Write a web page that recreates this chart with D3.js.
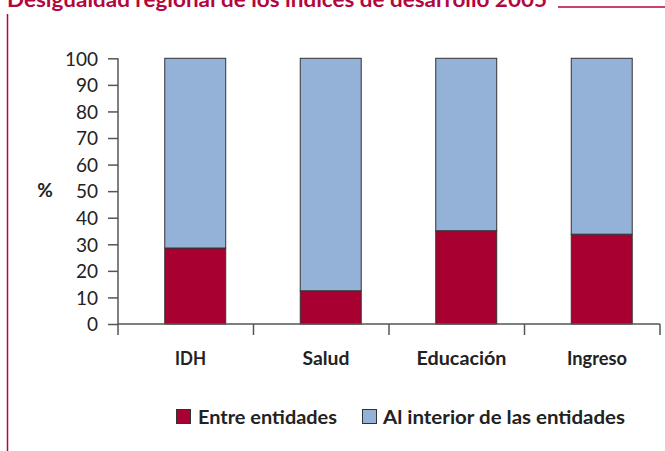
<!DOCTYPE html>
<html><head><meta charset="utf-8">
<script src="https://cdn.jsdelivr.net/npm/d3@7/dist/d3.min.js"></script>
<style>body{margin:0;background:#fff}svg{display:block}</style>
</head><body>
<svg id="c" width="665" height="451"></svg>
<script>
const title = "Desigualdad regional de los índices de desarrollo 2005";
const categories = ["IDH", "Salud", "Educación", "Ingreso"];
const entre = [28.6, 12.5, 35.1, 33.8];
const interior = [71.4, 87.5, 64.9, 66.2];
const seriesNames = ["Entre entidades", "Al interior de las entidades"];
const yTicks = [0, 10, 20, 30, 40, 50, 60, 70, 80, 90, 100];
const yLabel = "%";

const red = "#A80031", blue = "#94B2D7", crimson = "#B3073F", axisCol = "#555";
const font = "Lato, 'Open Sans', sans-serif";
const svg = d3.select("#c");

// title & frame
svg.append("text").attr("x", 7).attr("y", 7).attr("font-family", font)
  .attr("font-weight", 700).attr("font-size", 20).attr("fill", crimson)
  .attr("textLength", 540).attr("lengthAdjust", "spacingAndGlyphs").text(title);
svg.append("line").attr("x1", 558).attr("x2", 665).attr("y1", 7).attr("y2", 7)
  .attr("stroke", crimson).attr("stroke-width", 1.5);
svg.append("line").attr("x1", 7.5).attr("x2", 7.5).attr("y1", 14).attr("y2", 451)
  .attr("stroke", crimson).attr("stroke-width", 1.5);

const x = d3.scaleBand().domain(categories).range([118, 660]).padding(0);
const y = d3.scaleLinear().domain([0, 100]).range([324, 58.3]);
const bw = x.bandwidth();

const data = categories.map((c, i) => ({cat: c, entre: entre[i], interior: interior[i]}));
const stack = d3.stack().keys(["entre", "interior"])(data);
const colors = [red, blue];

const g = svg.append("g");
stack.forEach((layer, li) => {
  g.selectAll(null).data(layer).enter().append("rect")
    .attr("x", d => x(d.data.cat) + bw * 0.345)
    .attr("width", bw * 0.45)
    .attr("y", d => y(d[1]))
    .attr("height", d => y(d[0]) - y(d[1]))
    .attr("fill", colors[li])
    .attr("stroke", "#333").attr("stroke-width", 1);
});

// y axis
const yAxis = d3.axisLeft(y).tickValues(yTicks).tickSize(10).tickPadding(10).tickSizeOuter(0);
const ya = svg.append("g").attr("transform", "translate(118,0)").call(yAxis);
ya.select(".domain").remove();
ya.append("line").attr("x1", 0).attr("x2", 0).attr("y1", y(100)).attr("y2", 335)
  .attr("stroke", axisCol).attr("stroke-width", 1.5);
ya.selectAll(".tick line").attr("stroke", axisCol).attr("stroke-width", 1.5);
ya.selectAll(".tick text").attr("font-family", font).attr("font-size", 19)
  .attr("fill", "#222").attr("dy", "0.36em");

// x axis
const xa = svg.append("g");
xa.append("line").attr("x1", 118).attr("x2", 660).attr("y1", 324).attr("y2", 324)
  .attr("stroke", axisCol).attr("stroke-width", 1.5);
const edges = categories.map(c => x(c)).concat([x(categories[categories.length - 1]) + bw]);
xa.selectAll(null).data(edges.slice(1)).enter().append("line")
  .attr("x1", d => d).attr("x2", d => d).attr("y1", 324).attr("y2", 335)
  .attr("stroke", axisCol).attr("stroke-width", 1.5);
const labW = {"IDH": 31, "Salud": 47, "Educación": 90, "Ingreso": 60};
xa.selectAll(null).data(categories).enter().append("text")
  .attr("x", d => x(d) + bw * 0.535 - labW[d] / 2).attr("y", 365)
  .attr("font-family", font).attr("font-weight", 700)
  .attr("font-size", 19).attr("fill", "#222")
  .attr("textLength", d => labW[d]).attr("lengthAdjust", "spacingAndGlyphs").text(d => d);

svg.append("text").attr("x", 45).attr("y", 190).attr("dy", "0.35em")
  .attr("text-anchor", "middle").attr("font-family", font).attr("font-weight", 700)
  .attr("font-size", 19).attr("fill", "#222").text(yLabel);

// legend
const legX = [176, 362], legW = [139, 242];
const leg = svg.append("g");
seriesNames.forEach((n, i) => {
  leg.append("rect").attr("x", legX[i] + 0.5).attr("y", 409.5).attr("width", 14).attr("height", 14)
    .attr("fill", colors[i]).attr("stroke", "#333").attr("stroke-width", 1);
  leg.append("text").attr("x", legX[i] + (i === 0 ? 22 : 21)).attr("y", 424)
    .attr("font-family", font).attr("font-weight", 700).attr("font-size", 19)
    .attr("fill", "#222").attr("textLength", legW[i]).attr("lengthAdjust", "spacingAndGlyphs").text(n);
});
</script>
</body></html>
